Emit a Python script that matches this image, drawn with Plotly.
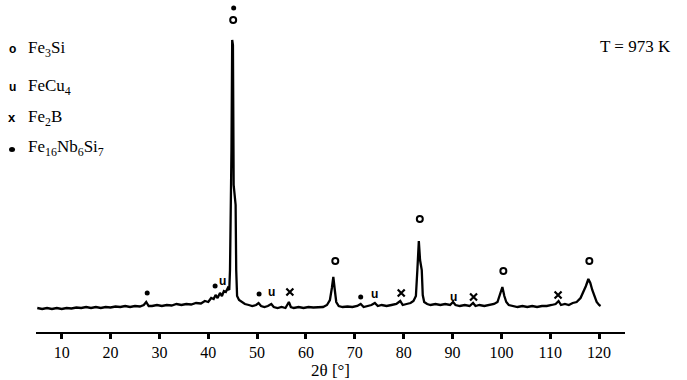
import plotly.graph_objects as go

# ---- data ----
two_theta = [5.0, 6.0, 7.0, 8.0, 9.0, 10.0, 11.0, 12.0, 13.0, 14.0, 15.0, 16.0, 17.0, 18.0, 19.0,
             20.0, 21.0, 22.0, 23.0, 24.0, 25.0, 26.0, 26.8, 27.3, 27.8, 28.5, 29.5, 30.5, 31.5,
             32.5, 33.5, 34.5, 35.5, 36.5, 37.5, 38.5, 39.3, 40.0, 40.6, 41.1, 41.5, 41.9, 42.4,
             42.8, 43.2, 43.6, 44.0, 44.3, 44.45, 44.55, 44.75, 44.9, 45.05, 45.2, 45.45, 45.6,
             45.72, 45.9, 46.3, 46.8, 47.5, 48.3, 49.0, 49.8, 50.3, 50.8, 51.5, 52.2, 52.9, 53.4,
             54.2, 55.0, 55.8, 56.5, 56.9, 57.5, 58.5, 59.5, 60.5, 61.5, 62.5, 63.5, 64.3, 64.9,
             65.3, 65.6, 65.9, 66.2, 66.7, 67.5, 68.5, 69.5, 70.5, 71.2, 71.8, 72.6, 73.4, 74.1,
             74.7, 75.5, 76.5, 77.5, 78.5, 79.3, 79.8, 80.6, 81.4, 82.0, 82.5, 82.8, 83.1, 83.35,
             83.5, 83.7, 83.9, 84.2, 84.8, 85.5, 86.5, 87.5, 88.5, 89.5, 90.1, 90.6, 91.5, 92.5,
             93.5, 94.2, 94.7, 95.5, 96.5, 97.5, 98.5, 99.2, 99.7, 100.2, 100.6, 101.0, 101.5,
             102.3, 103.3, 104.3, 105.3, 106.3, 107.3, 108.3, 109.3, 110.3, 111.1, 111.7, 112.2,
             113.0, 113.8, 114.6, 115.4, 116.2, 116.8, 117.3, 117.8, 118.2, 118.6, 119.0, 119.5,
             120.0, 120.3]
intensity = [2, 1, 2, 1, 2, 1, 2, 1.5, 2.5, 2, 3, 2, 3, 2, 3,
             2.5, 3.5, 3, 4, 3, 4, 3.5, 5, 8, 4, 4, 5, 4, 5,
             4.5, 6, 5, 6, 5.5, 7, 6.5, 9, 8, 12, 11, 15, 12, 17,
             14, 19, 18, 22, 20, 40, 120, 160, 270, 265, 125, 112, 105,
             40, 14, 10, 8, 6, 5, 4, 5, 7, 4, 3, 4, 6, 3,
             2, 3, 2, 8, 3, 2, 3, 2, 3, 2.5, 3, 3, 5, 10,
             22, 33, 20, 8, 4, 3, 3.5, 3, 4, 6, 3, 4, 5, 7,
             4, 5, 4, 5, 6, 9, 5, 6, 7, 9, 14, 40, 69, 50,
             44, 40, 15, 8, 6, 5, 6, 5, 6, 5, 8, 5, 4, 5,
             4, 7, 4, 5, 4, 5, 6, 8, 15, 23, 14, 8, 5,
             4, 3, 4, 3, 4, 3, 4, 4, 5, 6, 9, 5,
             6, 5, 7, 8, 12, 18, 24, 31, 27, 20, 14, 8,
             5, 4]

# phase markers (2theta, intensity position of the marker)
fe3si_x = [45.1, 66.0, 83.3, 100.4, 118.0]
fe3si_y = [290, 49, 91, 39, 49]
fecu4_x = [43.0, 53.0, 74.0, 90.2]
fecu4_y = [29, 18, 16, 13]
fe2b_x = [56.7, 79.5, 94.3, 111.6]
fe2b_y = [18, 17, 13, 15]
fenbsi_x = [27.5, 41.4, 45.2, 50.4, 71.2]
fenbsi_y = [17, 24, 302, 16, 13]

tick_vals = [10, 20, 30, 40, 50, 60, 70, 80, 90, 100, 110, 120]
legend_labels = ["Fe<sub>3</sub>Si", "FeCu<sub>4</sub>", "Fe<sub>2</sub>B",
                 "Fe<sub>16</sub>Nb<sub>6</sub>Si<sub>7</sub>"]

SERIF = "Liberation Serif"
SANS = "Liberation Sans"

fig = go.Figure()
fig.add_trace(go.Scatter(x=two_theta, y=intensity, mode="lines",
                         line=dict(color="black", width=2.3), showlegend=False))
fig.add_trace(go.Scatter(x=fe3si_x, y=fe3si_y, mode="markers", showlegend=False,
                         marker=dict(symbol="circle-open", size=6, color="black",
                                     line=dict(width=2, color="black"))))
fig.add_trace(go.Scatter(x=fe2b_x, y=fe2b_y, mode="markers", showlegend=False,
                         marker=dict(symbol="x-thin-open", size=7, color="black",
                                     line=dict(width=2.2, color="black"))))
fig.add_trace(go.Scatter(x=fenbsi_x, y=fenbsi_y, mode="markers", showlegend=False,
                         marker=dict(symbol="circle", size=5, color="black")))
for xx, yy in zip(fecu4_x, fecu4_y):
    fig.add_annotation(x=xx, y=yy, xref="x", yref="y", text="<b>u</b>", showarrow=False,
                       font=dict(family=SANS, size=12, color="#000000"),
                       xanchor="center", yanchor="middle")

# legend built from annotations (symbols + labels)
sym_texts = ["<b>o</b>", "<b>u</b>", "<b>x</b>", None]
sym_sizes = [12, 12, 13, 9]
leg_y = [0.852, 0.738, 0.645, 0.554]
sym_x = -0.0407
for s, sz, lab, yy in zip(sym_texts, sym_sizes, legend_labels, leg_y):
    if s is not None:
        fig.add_annotation(xref="paper", yref="paper", x=sym_x, y=yy, text=s, showarrow=False,
                           font=dict(family=SANS, size=sz, color="black"),
                           xanchor="center", yanchor="middle")
    else:
        fig.add_shape(type="circle", xref="paper", yref="paper", xsizemode="pixel",
                      ysizemode="pixel", xanchor=sym_x, yanchor=yy - 0.004,
                      x0=-3, x1=3, y0=-2.5, y1=2.5, fillcolor="black", line=dict(width=0))
    fig.add_annotation(xref="paper", yref="paper", x=-0.017, y=yy, text=lab, showarrow=False,
                       font=dict(family=SERIF, size=17, color="black"), xanchor="left", yanchor="middle")

fig.add_annotation(xref="paper", yref="paper", x=(673 - 36) / 589, y=0.861, text="T = 973 K",
                   showarrow=False, font=dict(family=SERIF, size=17, color="black"),
                   xanchor="right", yanchor="middle")

fig.update_layout(
    width=687, height=380,
    margin=dict(l=36, r=62, t=0, b=48),
    paper_bgcolor="white", plot_bgcolor="white",
    font=dict(family=SERIF, color="black"),
    xaxis=dict(range=[4.74, 125.3], showline=True, linecolor="black", linewidth=1.8,
               ticks="outside", ticklen=5, tickwidth=2.5, tickcolor="black",
               tickvals=tick_vals, tickfont=dict(family=SERIF, size=16, color="black"),
               showgrid=False, zeroline=False,
               title=dict(text="2θ [°]", font=dict(family=SERIF, size=17, color="black"), standoff=0)),
    yaxis=dict(range=[-22, 310], visible=False, showgrid=False, zeroline=False),
)

fig.write_html("out.html")
